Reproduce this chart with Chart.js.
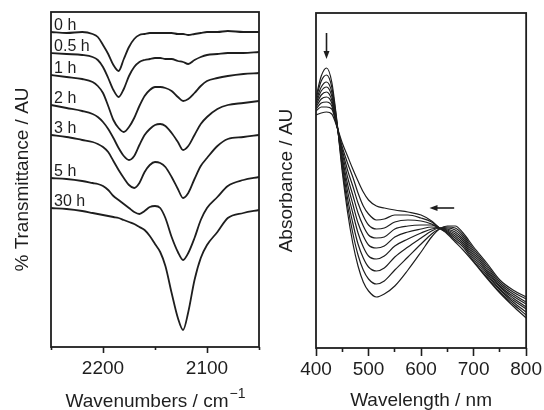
<!DOCTYPE html>
<html>
<head>
<meta charset="utf-8">
<script src="https://cdn.jsdelivr.net/npm/chart.js@4"></script>
<style>
html, body { margin: 0; padding: 0; background: #fff; }
#wrap { position: relative; width: 544px; height: 410px; overflow: hidden; }
canvas { position: absolute; top: 0; }
#ir { left: 0; }
#uv { left: 272px; }
</style>
</head>
<body>
<div id="wrap">
  <canvas id="ir" width="272" height="410"></canvas>
  <canvas id="uv" width="272" height="410"></canvas>
</div>
<script>
const ink = '#1e1e1e';
const fontFam = '"Liberation Sans", Arial, Helvetica, sans-serif';

// left panel: IR spectra, stacked, arbitrary units
const wavenumbers = [2250, 2235, 2220, 2210, 2205, 2200, 2195, 2190, 2185, 2180, 2175, 2170, 2165, 2160, 2155, 2150, 2145, 2140, 2134, 2128, 2123, 2118, 2112, 2106, 2100, 2090, 2080, 2065, 2050];
const irTimes = ['0 h', '0.5 h', '1 h', '2 h', '3 h', '5 h', '30 h'];
const ir0h  = [315, 314, 315, 313, 310, 302, 293, 282, 276, 288, 300, 308, 312, 313, 314, 314, 314, 314, 314, 313, 313, 312, 313, 314, 315, 315, 316, 315, 315];
const ir05h = [294, 293, 292, 290, 287, 280, 269, 257, 250, 258, 271, 280, 285, 287, 288, 289, 289, 288, 288, 286, 285, 283, 287, 290, 292, 293, 294, 294, 295];
const ir1h  = [272, 270, 268, 265, 261, 254, 241, 227, 219, 215, 220, 229, 241, 251, 257, 260, 260, 259, 256, 250, 246, 248, 254, 261, 266, 269, 271, 273, 274];
const ir2h  = [242, 239, 236, 233, 230, 225, 218, 209, 199, 191, 187, 191, 202, 212, 218, 222, 223, 221, 214, 205, 197, 201, 212, 223, 230, 238, 242, 244, 246];
const ir3h  = [212, 210, 207, 205, 203, 200, 195, 186, 177, 169, 162, 159, 164, 175, 182, 185, 184, 180, 170, 158, 149, 154, 168, 181, 189, 201, 208, 210, 212];
const ir5h  = [169, 168, 166, 164, 163, 161, 157, 151, 147, 143, 139, 135, 133, 136, 140, 141, 139, 129, 110, 95, 87, 94, 109, 127, 139, 150, 161, 167, 170];
const ir30h = [139, 138, 136, 134, 133, 132, 131, 130, 129, 127, 125, 123, 120, 117, 111, 103, 95, 81, 54, 29, 17, 35, 67, 89, 102, 115, 129, 134, 137];
const irSeries = [ir0h, ir05h, ir1h, ir2h, ir3h, ir5h, ir30h];

// right panel: UV-vis spectra over time, arbitrary units
const wavelengths = [400, 410, 420, 430, 440, 450, 460, 470, 480, 490, 500, 515, 530, 550, 575, 600, 620, 635, 650, 665, 680, 700, 725, 750, 775, 800];
const uvA = [251, 272, 280, 266, 226, 176, 136, 105, 82, 66, 57, 51, 54, 62, 78, 96, 111, 119, 122, 122, 115, 101, 85, 68, 58, 51];
const uvB = [249, 267, 273, 261, 225, 180, 143, 115, 93, 78, 69, 64, 67, 78, 91, 104, 114, 119, 121, 120, 113, 99, 83, 66, 56, 49];
const uvC = [247, 261, 266, 256, 224, 184, 150, 125, 104, 90, 81, 77, 80, 91, 101, 110, 117, 120, 120, 118, 111, 97, 81, 64, 54, 46];
const uvD = [245, 257, 261, 252, 223, 188, 157, 135, 115, 101, 92, 89, 92, 102, 109, 115, 119, 120, 119, 116, 109, 95, 79, 62, 52, 44];
const uvE = [243, 253, 256, 248, 223, 191, 164, 144, 125, 112, 103, 100, 102, 111, 116, 119, 121, 120, 118, 114, 107, 93, 77, 61, 50, 41];
const uvF = [241, 249, 251, 245, 222, 195, 171, 153, 135, 122, 113, 110, 111, 119, 122, 123, 123, 120, 117, 112, 105, 91, 75, 59, 48, 39];
const uvG = [239, 245, 246, 242, 222, 198, 178, 162, 145, 132, 123, 119, 120, 126, 128, 127, 124, 120, 116, 110, 103, 89, 73, 58, 46, 36];
const uvH = [237, 241, 241, 239, 221, 201, 185, 171, 155, 142, 134, 128, 129, 133, 133, 130, 126, 120, 115, 108, 101, 87, 71, 56, 44, 33];
const uvI = [233, 235, 236, 234, 221, 205, 192, 179, 167, 156, 148, 142, 140, 138, 136, 133, 127, 120, 114, 106, 98, 86, 70, 55, 42, 30];
const uvSeries = [uvA, uvB, uvC, uvD, uvE, uvF, uvG, uvH, uvI];

// arrows drawn on the right panel: [x0, y0, x1, y1] in data units
const uvArrows = [[420, 315, 420, 289], [663, 140, 616, 140]];

function toPoints(xs, ys) {
  return xs.map((x, i) => ({x: x, y: ys[i]}));
}

function lineSet(xs, ys, w) {
  return {
    data: toPoints(xs, ys),
    borderColor: ink,
    borderWidth: w,
    pointRadius: 0,
    fill: false,
    cubicInterpolationMode: 'monotone'
  };
}

function xAxis(min, max, reverse, major, minor, pad, title, h) {
  return {
    type: 'linear', min: min, max: max, reverse: reverse,
    afterFit: s => { s.height = h; },
    border: {display: false},
    grid: {
      display: true, drawOnChartArea: false, drawTicks: true,
      tickLength: major, tickColor: ink, tickWidth: 1.6,
      tickBorderDash: c => (c.tick && c.tick.value % 100 === 0) ? [] : [minor, 100]
    },
    ticks: {
      stepSize: 50, autoSkip: false, maxRotation: 0, minRotation: 0, padding: pad,
      color: ink, font: {family: fontFam, size: 19},
      callback: v => v % 100 === 0 ? String(v) : ''
    },
    title: {display: !!title, text: title, color: ink, font: {family: fontFam, size: 19, lineHeight: 1}, padding: 0}
  };
}

function yAxis(title, w, pad) {
  return {
    type: 'linear', min: 0, max: 335,
    afterFit: s => { s.width = w; },
    border: {display: false},
    grid: {display: false},
    ticks: {display: false},
    title: {display: true, text: title, color: ink, font: {family: fontFam, size: 19, lineHeight: 1}, padding: {top: pad, bottom: 0}}
  };
}

const boxPlugin = {
  id: 'box',
  afterDraw(chart) {
    const a = chart.chartArea;
    const ctx = chart.ctx;
    ctx.save();
    ctx.strokeStyle = ink;
    ctx.lineWidth = 1.8;
    ctx.strokeRect(a.left, a.top, a.right - a.left, a.bottom - a.top);
    ctx.restore();
  }
};

// x title with a real superscript for the left panel
const irTitlePlugin = {
  id: 'irTitle',
  afterDraw(chart) {
    const ctx = chart.ctx;
    const a = chart.chartArea;
    const main = 'Wavenumbers / cm', sup = '\u22121';
    ctx.save();
    ctx.fillStyle = ink;
    ctx.textBaseline = 'alphabetic';
    ctx.font = '19px ' + fontFam;
    const w1 = ctx.measureText(main).width;
    ctx.font = '14px ' + fontFam;
    const w2 = ctx.measureText(sup).width;
    const x0 = (a.left + a.right) / 2 - (w1 + w2) / 2;
    ctx.font = '19px ' + fontFam;
    ctx.fillText(main, x0, 407);
    ctx.font = '14px ' + fontFam;
    ctx.fillText(sup, x0 + w1 + 1, 398);
    ctx.restore();
  }
};

const irLabelPlugin = {
  id: 'irLabels',
  afterDatasetsDraw(chart) {
    const ctx = chart.ctx;
    const x = chart.scales.x, y = chart.scales.y;
    ctx.save();
    ctx.fillStyle = ink;
    ctx.font = '16px ' + fontFam;
    ctx.textBaseline = 'alphabetic';
    irTimes.forEach((t, i) => {
      ctx.fillText(t, x.getPixelForValue(2247), y.getPixelForValue(irSeries[i][0]) - 2);
    });
    ctx.restore();
  }
};

const arrowPlugin = {
  id: 'arrows',
  afterDatasetsDraw(chart) {
    const ctx = chart.ctx;
    const x = chart.scales.x, y = chart.scales.y;
    ctx.save();
    ctx.strokeStyle = ink;
    ctx.fillStyle = ink;
    ctx.lineWidth = 1.6;
    uvArrows.forEach(a => {
      const x0 = x.getPixelForValue(a[0]), y0 = y.getPixelForValue(a[1]);
      const x1 = x.getPixelForValue(a[2]), y1 = y.getPixelForValue(a[3]);
      const ang = Math.atan2(y1 - y0, x1 - x0);
      const hl = 8, hw = 3;
      ctx.beginPath();
      ctx.moveTo(x0, y0);
      ctx.lineTo(x1 - Math.cos(ang) * hl * 0.8, y1 - Math.sin(ang) * hl * 0.8);
      ctx.stroke();
      ctx.beginPath();
      ctx.moveTo(x1, y1);
      ctx.lineTo(x1 - Math.cos(ang) * hl - Math.sin(ang) * hw, y1 - Math.sin(ang) * hl + Math.cos(ang) * hw);
      ctx.lineTo(x1 - Math.cos(ang) * hl + Math.sin(ang) * hw, y1 - Math.sin(ang) * hl - Math.cos(ang) * hw);
      ctx.closePath();
      ctx.fill();
    });
    ctx.restore();
  }
};

const common = {
  responsive: false,
  animation: false,
  events: [],
  plugins: {legend: {display: false}, tooltip: {enabled: false}}
};

new Chart(document.getElementById('ir'), {
  type: 'line',
  data: {datasets: irSeries.map(s => lineSet(wavenumbers, s, 1.8))},
  options: Object.assign({}, common, {
    layout: {autoPadding: false, padding: {top: 12, right: 13, left: 0, bottom: 0}},
    scales: {
      x: xAxis(2050, 2250, true, 6, 3, 4, '', 63),
      y: yAxis('% Transmittance / AU', 51, 13.5)
    }
  }),
  plugins: [boxPlugin, irLabelPlugin, irTitlePlugin]
});

new Chart(document.getElementById('uv'), {
  type: 'line',
  data: {datasets: uvSeries.map(s => lineSet(wavelengths, s, 1.2))},
  options: Object.assign({}, common, {
    layout: {autoPadding: false, padding: {top: 13, right: 14, left: 0, bottom: 0}},
    scales: {
      x: xAxis(400, 800, false, 8, 4, 2, 'Wavelength / nm', 62),
      y: yAxis('Absorbance / AU', 44, 5.5)
    }
  }),
  plugins: [boxPlugin, arrowPlugin]
});
</script>
</body>
</html>
